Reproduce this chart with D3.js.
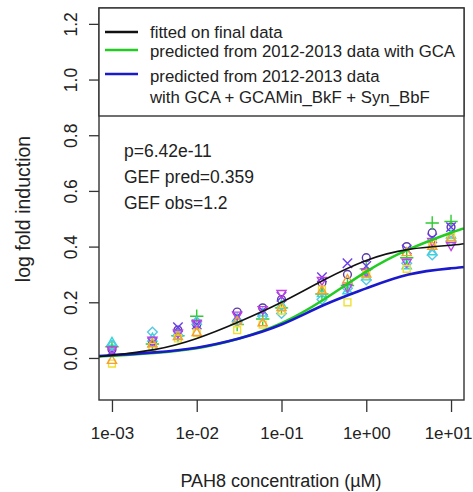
<!DOCTYPE html>
<html lang="en">
<head>
<meta charset="UTF-8">
<title>PAH8 dose response</title>
<script src="https://d3js.org/d3.v7.min.js"></script>
<style>
  body { margin: 0; background: #fff; }
  text { font-family: "Liberation Sans", Arial, sans-serif; fill: #222; }
</style>
</head>
<body>
<svg width="473" height="492"></svg>
<script>
// concentrations (uM) where replicates were measured
let conc = [0.001, 0.003, 0.006, 0.01, 0.03, 0.06, 0.1, 0.3, 0.6, 1, 3, 6, 10]

// replicate measurements (log fold induction), one array per replicate
let rep1 = [0.03, 0.06, 0.10, 0.12, 0.165, 0.18, 0.21, 0.27, 0.30, 0.36, 0.40, 0.45, 0.47]
let rep2 = [0.055, 0.07, 0.09, 0.13, 0.14, 0.16, 0.19, 0.23, 0.24, 0.29, 0.33, 0.38, 0.44]
let rep3 = [0.04, 0.05, 0.08, 0.15, 0.12, 0.14, 0.18, 0.23, 0.26, 0.32, 0.36, 0.485, 0.49]
let rep4 = [0.025, 0.055, 0.11, 0.12, 0.15, 0.17, 0.22, 0.29, 0.34, 0.33, 0.39, 0.43, 0.47]
let rep5 = [0.045, 0.093, 0.08, 0.13, 0.13, 0.15, 0.16, 0.21, 0.25, 0.28, 0.34, 0.37, 0.42]
let rep6 = [0.03, 0.065, 0.09, 0.125, 0.155, 0.175, 0.233, 0.28, 0.255, 0.31, 0.345, 0.42, 0.405]
let rep7 = [-0.02, 0.04, 0.07, 0.09, 0.10, 0.12, 0.17, 0.245, 0.20, 0.30, 0.32, 0.41, 0.435]
let rep8 = [-0.01, 0.05, 0.076, 0.09, 0.13, 0.125, 0.18, 0.24, 0.28, 0.30, 0.377, 0.40, 0.43]
let replicates = [rep1, rep2, rep3, rep4, rep5, rep6, rep7, rep8]
let repColors = ["#5a3aa8", "#33d6d6", "#2ecc2e", "#6a3cf0", "#55c8e6", "#c040e0", "#f0e030", "#f5a030"]
let repShapes = ["circle", "triangle", "plus", "times", "diamond", "triangleDown", "square", "triangle"]

// curves (x = concentration uM)
let curveX = [0.0007, 0.001, 0.00316, 0.01, 0.0316, 0.1, 0.316, 1, 3.16, 10, 14.2]
let fittedY = [0.005, 0.01, 0.03, 0.07, 0.13, 0.20, 0.28, 0.35, 0.39, 0.405, 0.41]
let gcaY = [0.005, 0.008, 0.018, 0.035, 0.07, 0.125, 0.21, 0.31, 0.39, 0.45, 0.465]
let gcaMixY = [0.007, 0.01, 0.02, 0.037, 0.07, 0.12, 0.19, 0.25, 0.30, 0.322, 0.327]

let xTicks = [1e-3, 1e-2, 1e-1, 1, 10]
let xTickLabels = ["1e-03", "1e-02", "1e-01", "1e+00", "1e+01"]
let yTicks = [0, 0.2, 0.4, 0.6, 0.8, 1.0, 1.2]

let legendLabels = [["fitted on final data"], ["predicted from 2012-2013 data with GCA"],
    ["predicted from 2012-2013 data", "with GCA + GCAMin_BkF + Syn_BbF"]]
let legendColors = ["#111", "#22cc22", "#1a1acc"]
let notes = ["p=6.42e-11", "GEF pred=0.359", "GEF obs=1.2"]

let svg = d3.select("svg")
let pLeft = 99, pRight = 464, pTop = 8, pBottom = 400

let x = d3.scaleLog().domain([Math.pow(10, -3.153), Math.pow(10, 1.153)]).range([pLeft, pRight])
let y = d3.scaleLinear().domain([-0.151, 1.257]).range([pBottom, pTop])

let line = d3.line().x(function (d) { return x(d[0]) }).y(function (d) { return y(d[1]) })
    .curve(d3.curveNatural)
svg.append("clipPath").attr("id", "clip").append("rect")
    .attr("x", pLeft).attr("y", pTop).attr("width", pRight - pLeft).attr("height", pBottom - pTop)
let plot = svg.append("g").attr("clip-path", "url(#clip)")

// points
let shapeMap = {
    circle: d3.symbolCircle, triangle: d3.symbolTriangle2, plus: d3.symbolPlus,
    times: d3.symbolTimes, diamond: d3.symbolDiamond2, triangleDown: d3.symbolTriangle2,
    square: d3.symbolSquare2
}
replicates.forEach(function (vals, i) {
    let sym = d3.symbol().type(shapeMap[repShapes[i]]).size(repShapes[i] == "circle" ? 48 : 60)
    plot.append("g").selectAll("path")
        .data(vals)
        .enter()
        .append("path")
        .attr("d", sym)
        .attr("transform", function (d, j) {
            let rot = repShapes[i] == "triangleDown" ? " rotate(180)" : ""
            return `translate(${x(conc[j])},${y(d)})` + rot
        })
        .attr("fill", "none")
        .attr("stroke", repColors[i])
        .attr("stroke-width", 1.4)
})

// curves
plot.append("path").datum(d3.zip(curveX, gcaY))
    .attr("d", line).attr("fill", "none").attr("stroke", legendColors[1]).attr("stroke-width", 2.6)
plot.append("path").datum(d3.zip(curveX, gcaMixY))
    .attr("d", line).attr("fill", "none").attr("stroke", legendColors[2]).attr("stroke-width", 2.6)
plot.append("path").datum(d3.zip(curveX, fittedY))
    .attr("d", line).attr("fill", "none").attr("stroke", legendColors[0]).attr("stroke-width", 1.6)

// axes
let xAxis = svg.append("g").attr("transform", `translate(0,${pBottom})`)
    .call(d3.axisBottom(x).tickValues(xTicks).tickSize(12).tickPadding(15)
        .tickFormat(function (d, i) { return xTickLabels[i] }))
let yAxis = svg.append("g").attr("transform", `translate(${pLeft},0)`)
    .call(d3.axisLeft(y).tickValues(yTicks).tickSize(10)
        .tickFormat(d3.format(".1f")))
xAxis.select(".domain").remove()
yAxis.select(".domain").remove()
svg.selectAll(".tick line").attr("stroke", "#333").attr("stroke-width", 1.3)
xAxis.selectAll("text").style("font-size", "17px").attr("fill", "#222")
    .attr("x", function (d, i) { return i == xTicks.length - 1 ? -3 : 0 })
yAxis.selectAll("text").style("font-size", "17.5px").attr("fill", "#222")
    .attr("text-anchor", "middle")
    .attr("transform", "rotate(-90)")
    .attr("x", 0).attr("y", -28).attr("dy", "0.35em")

// plot box
svg.append("rect").attr("x", pLeft).attr("y", pTop).attr("width", pRight - pLeft).attr("height", pBottom - pTop)
    .attr("fill", "none").attr("stroke", "#333").attr("stroke-width", 1.4)

// legend
let legend = svg.append("g")
legend.append("rect").attr("x", pLeft).attr("y", pTop).attr("width", pRight - pLeft).attr("height", 108)
    .attr("fill", "#fff").attr("stroke", "#333").attr("stroke-width", 1.4)
let legendLineY = [32, 50, 74]
let legendTextY = [[32], [51], [76, 97]]
legendLabels.forEach(function (lab, i) {
    legend.append("line").attr("x1", 105).attr("x2", 138)
        .attr("y1", legendLineY[i]).attr("y2", legendLineY[i])
        .attr("stroke", legendColors[i]).attr("stroke-width", 2.4)
    lab.forEach(function (t, k) {
        legend.append("text").attr("x", 150).attr("y", legendTextY[i][k]).attr("dy", "0.35em")
            .style("font-size", "16.8px").text(t)
    })
})

// annotation
let noteY = [151, 177, 203]
notes.forEach(function (t, i) {
    svg.append("text").attr("x", 124).attr("y", noteY[i]).attr("dy", "0.35em")
        .style("font-size", "17.5px").text(t)
})

// axis titles
svg.append("text").attr("x", 281).attr("y", 481).attr("dy", "0.35em")
    .attr("text-anchor", "middle").style("font-size", "18px").text("PAH8 concentration (\u00b5M)")
svg.append("text").attr("transform", "translate(23,209) rotate(-90)").attr("dy", "0.35em")
    .attr("text-anchor", "middle").style("font-size", "19.5px").text("log fold induction")
</script>
</body>
</html>
